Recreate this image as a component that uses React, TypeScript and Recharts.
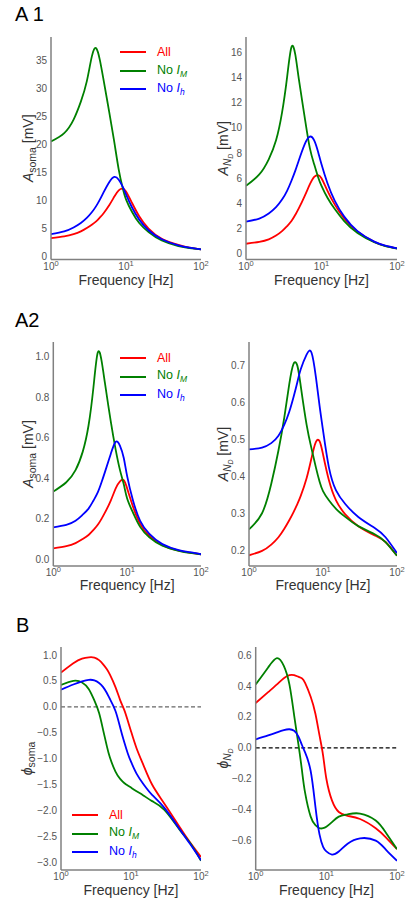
import React from 'react'
import { LineChart, Line, XAxis, YAxis, ReferenceLine, Legend } from 'recharts'

const FONT = '"Liberation Sans", Arial, sans-serif'

const FREQ = [1, 1.5, 2, 2.5, 3, 3.5, 4, 4.5, 5, 6, 7, 8, 9, 10, 12, 15, 20, 30, 50, 70, 100]

// A1 – soma amplitude [mV]
const A1_SOMA_ALL = [3.3, 3.6, 4.0, 4.5, 5.1, 5.7, 6.3, 7.0, 7.7, 9.2, 10.7, 11.8, 12.1, 11.6, 9.6, 7.2, 5.0, 3.2, 2.1, 1.6, 1.3]
const A1_SOMA_NO_M = [20.5, 22.0, 24.4, 27.6, 31.2, 35.6, 37.1, 34.9, 31.6, 25.6, 20.3, 15.5, 12.3, 10.2, 8.0, 6.0, 4.4, 2.9, 1.9, 1.55, 1.3]
const A1_SOMA_NO_H = [4.0, 4.5, 5.2, 6.0, 6.9, 7.9, 9.0, 10.2, 11.4, 13.3, 14.2, 13.7, 12.5, 11.1, 8.8, 6.6, 4.7, 3.1, 2.0, 1.6, 1.3]

// A1 – N_D amplitude [mV]
const A1_ND_ALL = [0.8, 0.95, 1.15, 1.45, 1.8, 2.2, 2.6, 3.1, 3.6, 4.6, 5.5, 6.1, 6.25, 6.0, 5.0, 3.9, 2.8, 1.75, 0.95, 0.64, 0.43]
const A1_ND_NO_M = [5.4, 6.3, 7.5, 9.0, 11.2, 14.0, 16.4, 15.8, 13.9, 10.8, 8.4, 7.1, 6.1, 5.4, 4.45, 3.55, 2.6, 1.65, 0.92, 0.62, 0.42]
const A1_ND_NO_H = [2.55, 2.8, 3.2, 3.7, 4.3, 5.0, 5.8, 6.6, 7.4, 8.7, 9.3, 9.0, 8.1, 7.1, 5.6, 4.2, 2.95, 1.8, 0.97, 0.65, 0.43]

// A2 – soma amplitude [mV]
const A2_SOMA_ALL = [0.054, 0.065, 0.08, 0.1, 0.12, 0.145, 0.17, 0.2, 0.23, 0.29, 0.35, 0.385, 0.39, 0.35, 0.26, 0.175, 0.115, 0.07, 0.043, 0.033, 0.025]
const A2_SOMA_NO_M = [0.334, 0.38, 0.44, 0.53, 0.66, 0.85, 1.02, 0.98, 0.87, 0.68, 0.54, 0.44, 0.37, 0.3, 0.23, 0.16, 0.108, 0.067, 0.042, 0.032, 0.025]
const A2_SOMA_NO_H = [0.158, 0.17, 0.19, 0.22, 0.25, 0.29, 0.33, 0.38, 0.43, 0.52, 0.58, 0.56, 0.5, 0.41, 0.29, 0.19, 0.125, 0.075, 0.045, 0.035, 0.025]

// A2 – N_D amplitude [mV]
const A2_ND_ALL = [0.186, 0.198, 0.215, 0.235, 0.258, 0.281, 0.303, 0.325, 0.347, 0.395, 0.45, 0.493, 0.495, 0.46, 0.39, 0.335, 0.297, 0.265, 0.24, 0.222, 0.185]
const A2_ND_NO_M = [0.256, 0.3, 0.38, 0.47, 0.56, 0.65, 0.705, 0.7, 0.645, 0.54, 0.475, 0.425, 0.385, 0.36, 0.335, 0.312, 0.29, 0.265, 0.243, 0.222, 0.185]
const A2_ND_NO_H = [0.473, 0.478, 0.49, 0.51, 0.54, 0.575, 0.615, 0.655, 0.69, 0.73, 0.735, 0.67, 0.59, 0.525, 0.425, 0.362, 0.325, 0.29, 0.26, 0.235, 0.192]

// B – soma phase
const B_SOMA_ALL = [0.66, 0.84, 0.93, 0.955, 0.95, 0.9, 0.82, 0.73, 0.62, 0.38, 0.13, -0.06, -0.27, -0.47, -0.8, -1.12, -1.5, -1.87, -2.33, -2.62, -2.9]
const B_SOMA_NO_M = [0.42, 0.5, 0.47, 0.34, 0.12, -0.12, -0.45, -0.75, -0.98, -1.25, -1.39, -1.47, -1.52, -1.56, -1.63, -1.71, -1.82, -1.99, -2.38, -2.63, -2.97]
const B_SOMA_NO_H = [0.33, 0.43, 0.49, 0.52, 0.51, 0.46, 0.38, 0.27, 0.15, -0.08, -0.4, -0.68, -0.9, -1.06, -1.29, -1.49, -1.7, -1.95, -2.37, -2.65, -2.96]

// B – N_D phase
const B_ND_ALL = [0.29, 0.36, 0.41, 0.45, 0.47, 0.47, 0.46, 0.45, 0.42, 0.33, 0.22, 0.08, -0.05, -0.2, -0.34, -0.415, -0.44, -0.46, -0.52, -0.58, -0.655]
const B_ND_NO_M = [0.41, 0.52, 0.58, 0.53, 0.41, 0.21, 0.03, -0.14, -0.29, -0.445, -0.5, -0.52, -0.52, -0.51, -0.48, -0.445, -0.43, -0.425, -0.47, -0.55, -0.655]
const B_ND_NO_H = [0.055, 0.08, 0.1, 0.115, 0.12, 0.11, 0.075, 0.02, -0.03, -0.15, -0.38, -0.56, -0.64, -0.67, -0.69, -0.67, -0.62, -0.585, -0.6, -0.66, -0.73]

const X_TICKS = [1, 10, 100]
const TICKS_A1_SOMA = [0, 5, 10, 15, 20, 25, 30, 35]
const TICKS_A1_ND = [0, 2, 4, 6, 8, 10, 12, 14, 16]
const TICKS_A2_SOMA = [0, 0.2, 0.4, 0.6, 0.8, 1.0]
const TICKS_A2_ND = [0.2, 0.3, 0.4, 0.5, 0.6, 0.7]
const TICKS_B_SOMA = [-3, -2.5, -2, -1.5, -1, -0.5, 0, 0.5, 1]
const TICKS_B_ND = [-0.6, -0.4, -0.2, 0, 0.2, 0.4, 0.6]

const subStyle = { fontSize: 8.5, fontStyle: 'italic' as const, verticalAlign: -3 }

const SERIES = [
  { key: 'all', color: '#ff0000', label: <>All</> },
  { key: 'noM', color: '#008000', label: <>No <i>I</i><sub style={subStyle}>M</sub></> },
  { key: 'noH', color: '#0000ff', label: <>No <i>I</i><sub style={subStyle}>h</sub></> },
]

const rows = (all: number[], noM: number[], noH: number[]) =>
  FREQ.map((f, i) => ({ f, all: all[i], noM: noM[i], noH: noH[i] }))

const fmtInt = (v: number) => String(v)
const fmt1 = (v: number) => v.toFixed(1).replace('-', '\u2212')

const LABEL_A_SOMA = (
  <>
    <tspan fontStyle="italic">A</tspan>
    <tspan fontSize={10.5} dy={3}>soma</tspan>
    <tspan dy={-3}> [mV]</tspan>
  </>
)
const LABEL_A_ND = (
  <>
    <tspan fontStyle="italic">A</tspan>
    <tspan fontSize={10} dy={3} fontStyle="italic">N</tspan>
    <tspan fontSize={7} dy={2} fontStyle="italic">D</tspan>
    <tspan dy={-5}> [mV]</tspan>
  </>
)
const LABEL_PHI_SOMA = (
  <>
    <tspan fontStyle="italic">ϕ</tspan>
    <tspan fontSize={10.5} dy={3}>soma</tspan>
  </>
)
const LABEL_PHI_ND = (
  <>
    <tspan fontStyle="italic">ϕ</tspan>
    <tspan fontSize={10} dy={3} fontStyle="italic">N</tspan>
    <tspan fontSize={7} dy={2} fontStyle="italic">D</tspan>
  </>
)

const PANELS = [
  { id: 'a1s', data: rows(A1_SOMA_ALL, A1_SOMA_NO_M, A1_SOMA_NO_H), ticks: TICKS_A1_SOMA, fmt: fmtInt, domain: [-0.5, 39.1], box: [51, 201, 37, 259.5], cl: 0, ylab: LABEL_A_SOMA, ylx: 28, xlDy: 25.5, legend: [120, 52.3] },
  { id: 'a1n', data: rows(A1_ND_ALL, A1_ND_NO_M, A1_ND_NO_H), ticks: TICKS_A1_ND, fmt: fmtInt, domain: [-0.45, 17.2], box: [246, 397, 37, 259.5], cl: 196, ylab: LABEL_A_ND, ylx: 223, xlDy: 25.5 },
  { id: 'a2s', data: rows(A2_SOMA_ALL, A2_SOMA_NO_M, A2_SOMA_NO_H), ticks: TICKS_A2_SOMA, fmt: fmt1, domain: [-0.033, 1.072], box: [53.3, 201, 342, 566], cl: 0, ylab: LABEL_A_SOMA, ylx: 28, xlDy: 23.5, legend: [120, 358] },
  { id: 'a2n', data: rows(A2_ND_ALL, A2_ND_NO_M, A2_ND_NO_H), ticks: TICKS_A2_ND, fmt: fmt1, domain: [0.157, 0.764], box: [249, 397, 342, 566], cl: 196, ylab: LABEL_A_ND, ylx: 223, xlDy: 23.5 },
  { id: 'bs', data: rows(B_SOMA_ALL, B_SOMA_NO_M, B_SOMA_NO_H), ticks: TICKS_B_SOMA, fmt: fmt1, domain: [-3.15, 1.154], box: [61, 201, 647, 870], cl: 0, ylab: LABEL_PHI_SOMA, ylx: 27, xlDy: 25, legend: [72, 815], zero: '#666' },
  { id: 'bn', data: rows(B_ND_ALL, B_ND_NO_M, B_ND_NO_H), ticks: TICKS_B_ND, fmt: fmt1, domain: [-0.79, 0.652], box: [255.7, 397, 647, 870], cl: 196, ylab: LABEL_PHI_ND, ylx: 223, xlDy: 25, zero: '#000' },
]

const LogTick = ({ x, y, payload }: any) => (
  <text x={x} y={y + 10} textAnchor="middle" fill="#555" fontSize={10} fontFamily={FONT}>
    10<tspan dy={-4} fontSize={7.5}>{Math.round(Math.log10(payload.value))}</tspan>
  </text>
)

const LegendBox = () => (
  <div style={{ fontFamily: FONT, fontSize: 12.5, lineHeight: 1 }}>
    {SERIES.map((s) => (
      <div key={s.key} style={{ display: 'flex', alignItems: 'center', height: 18.5 }}>
        <span style={{ display: 'inline-block', width: 26, height: 2, background: s.color, marginRight: 11 }} />
        <span style={{ color: s.color, whiteSpace: 'nowrap' }}>{s.label}</span>
      </div>
    ))}
  </div>
)

const TOP_PAD = 10
const XAXIS_H = 36
const RIGHT_PAD = 8

function Panel({ p }: { p: any }) {
  const [x0, x1, y0, y1] = p.box
  const left = p.cl
  const top = y0 - TOP_PAD
  const width = x1 + RIGHT_PAD - left
  const height = y1 - y0 + TOP_PAD + XAXIS_H
  const yw = x0 - left
  const cy = (y0 + y1) / 2 - top

  return (
    <div style={{ position: 'absolute', left, top }}>
      <LineChart width={width} height={height} data={p.data} margin={{ top: TOP_PAD, right: RIGHT_PAD, left: 0, bottom: 0 }}>
        <XAxis
          dataKey="f"
          type="number"
          scale="log"
          domain={[1, 100]}
          ticks={X_TICKS}
          interval={0}
          allowDataOverflow
          height={XAXIS_H}
          tickSize={0}
          tickMargin={0}
          tickLine={false}
          axisLine={{ stroke: '#808080', strokeWidth: 1.5 }}
          tick={<LogTick />}
          label={{
            content: () => (
              <text x={(x0 + x1) / 2 - left} y={y1 - top + p.xlDy} textAnchor="middle" fill="#333" fontSize={14} fontFamily={FONT}>
                Frequency [Hz]
              </text>
            ),
          }}
        />
        <YAxis
          type="number"
          domain={p.domain}
          ticks={p.ticks}
          interval={0}
          allowDataOverflow
          width={yw}
          tickSize={0}
          tickMargin={4}
          tickLine={false}
          tickFormatter={p.fmt}
          axisLine={{ stroke: '#808080', strokeWidth: 1.5 }}
          tick={{ fill: '#555', fontSize: 10, fontFamily: FONT }}
          label={{
            content: () => (
              <text transform={`translate(${p.ylx + 5 - left},${cy}) rotate(-90)`} textAnchor="middle" fill="#333" fontSize={14} fontFamily={FONT}>
                {p.ylab}
              </text>
            ),
          }}
        />
        {p.zero && <ReferenceLine y={0} stroke={p.zero} strokeWidth={1.3} strokeDasharray="4 2.5" />}
        {SERIES.map((s) => (
          <Line key={s.key} dataKey={s.key} type="natural" stroke={s.color} strokeWidth={1.8} dot={false} isAnimationActive={false} />
        ))}
        {p.legend && (
          <Legend
            layout="vertical"
            align="center"
            verticalAlign="middle"
            content={<LegendBox />}
            wrapperStyle={{ left: p.legend[0] - left, top: p.legend[1] - 9.25 - top, width: 90, height: 56 }}
          />
        )}
      </LineChart>
    </div>
  )
}

const panelLabel = (text: string, x: number, baseline: number) => (
  <div style={{ position: 'absolute', left: x, top: baseline - 19, fontFamily: FONT, fontSize: 20, lineHeight: '24px', color: '#000' }}>
    {text}
  </div>
)

export default function App() {
  return (
    <div style={{ position: 'absolute', left: 0, top: 0, width: 405, height: 902, background: '#fff', overflow: 'hidden' }}>
      {panelLabel('A 1', 15, 21)}
      {panelLabel('A2', 15, 327)}
      {panelLabel('B', 16, 632)}
      {PANELS.map((p) => (
        <Panel key={p.id} p={p} />
      ))}
    </div>
  )
}
